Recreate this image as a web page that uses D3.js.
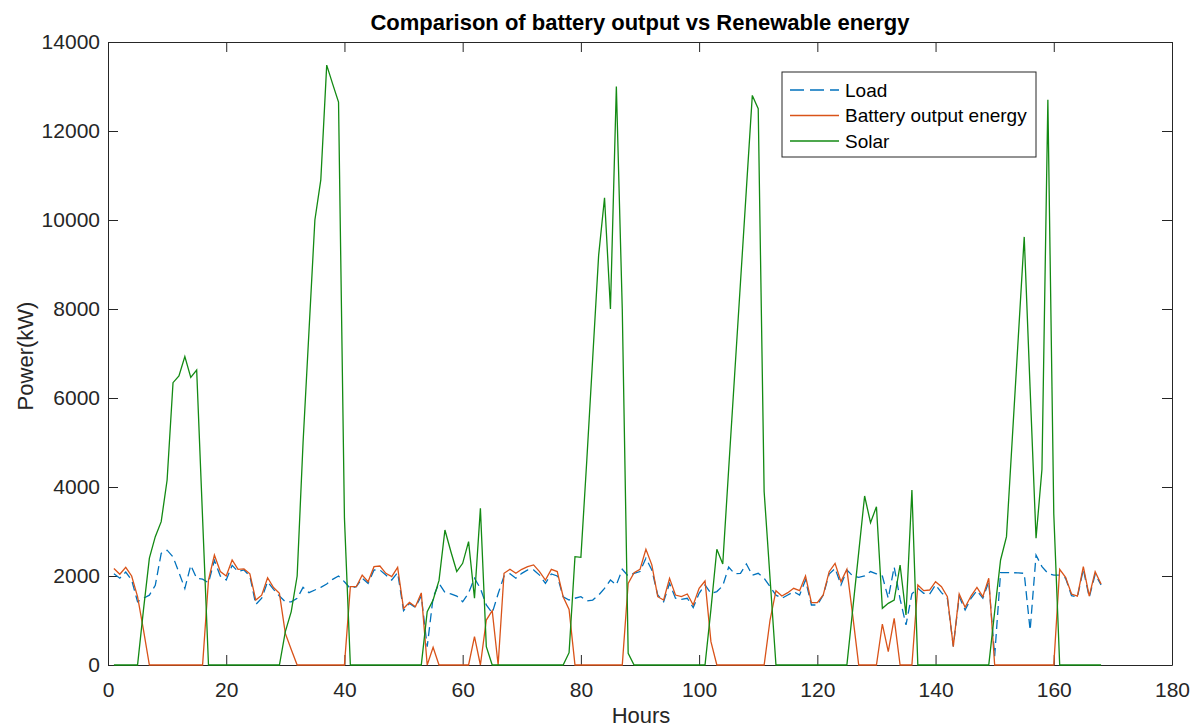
<!DOCTYPE html>
<html>
<head>
<meta charset="utf-8">
<script src="https://cdn.jsdelivr.net/npm/d3@7/dist/d3.min.js"></script>
<style>
  body { margin: 0; background: #fff; }
  svg { font-family: "Liberation Sans", Arial, sans-serif; }
</style>
</head>
<body>
<svg id="chart" width="1204" height="728"></svg>
<script>
// hours 1..168
const hours = d3.range(1, 169);

const load = [
  2050, 1950, 2090, 1910, 1420, 1500, 1570, 1790, 2510, 2580,
  2430, 2080, 1720, 2240, 1950, 1930, 1850, 2350, 2000, 1910,
  2240, 2100, 2135, 2000, 1360, 1500, 1870, 1700, 1550, 1420,
  1420, 1500, 1745, 1625, 1685, 1745, 1820, 1925, 2000, 1870,
  1720, 1760, 1950, 1835, 2135, 2135, 2020, 1910, 2075, 1220,
  1385, 1295, 1550, 410, 1520, 1835, 1630, 1600, 1550, 1420,
  1620, 1950, 1720, 1350, 1170, 1600, 2000, 2050, 1950, 2060,
  2135, 2135, 2020, 1835, 2045, 2000, 1535, 1460, 1500, 1535,
  1440, 1460, 1570, 1720, 1910, 1800, 2150, 2000, 2060, 2100,
  2400, 2135, 1573, 1423, 1835, 1500, 1475, 1500, 1290, 1610,
  1800, 1610, 1650, 1780, 2200, 2050, 2060, 2270, 2020, 2060,
  1950, 1760, 1570, 1500, 1573, 1648, 1573, 1910, 1348, 1348,
  1573, 2045, 2172, 1800, 2135, 2000, 1970, 2000, 2100, 2050,
  2000, 1500, 2200, 1480, 900, 1600, 1723, 1610, 1595, 1800,
  1625, 1500, 420, 1540, 1236, 1500, 1670, 1500, 1873, 200,
  2075, 2075, 2075, 2070, 2060, 780, 2470, 2210, 2060, 2020,
  2020, 1950, 1560, 1530, 2150, 1520, 2040, 1800
];

const battery = [
  2170, 2040, 2195, 2000, 1536, 790, 0, 0, 0, 0,
  0, 0, 0, 0, 0, 0, 1910, 2470, 2100, 2000,
  2360, 2150, 2160, 2050, 1460, 1570, 1960, 1740, 1610, 710,
  350, 0, 0, 0, 0, 0, 0, 0, 0, 0,
  1760, 1760, 2020, 1870, 2210, 2225, 2060, 1985, 2195, 1270,
  1410, 1310, 1620, 0, 400, 0, 0, 0, 0, 0,
  0, 640, 0, 1010, 1220, 0, 2060, 2150, 2060, 2150,
  2210, 2250, 2100, 1910, 2150, 2100, 1535, 1250, 0, 0,
  0, 0, 0, 0, 0, 0, 0, 1835, 2075, 2150,
  2600, 2250, 1535, 1460, 1948, 1573, 1536, 1595, 1348, 1723,
  1888, 524, 0, 0, 0, 0, 0, 0, 0, 0,
  0, 1011, 1670, 1550, 1625, 1723, 1670, 2000, 1400, 1400,
  1573, 2097, 2285, 1873, 2150, 1100, 0, 0, 0, 0,
  921, 300, 1049, 0, 0, 0, 1798, 1670, 1685, 1873,
  1760, 1536, 412, 1595, 1295, 1550, 1745, 1536, 1948, 0,
  0, 0, 0, 0, 0, 0, 0, 0, 0, 0,
  2150, 1970, 1595, 1550, 2210, 1550, 2097, 1820
];

const solar = [
  0, 0, 0, 0, 0, 1240, 2400, 2884, 3221, 4157,
  6345, 6494, 6929, 6464, 6629, 3300, 0, 0, 0, 0,
  0, 0, 0, 0, 0, 0, 0, 0, 0, 750,
  1200, 2000, 5000, 7500, 10000, 10900, 13480, 13060, 12650, 3300,
  0, 0, 0, 0, 0, 0, 0, 0, 0, 0,
  0, 0, 0, 1200, 1460, 1900, 3034, 2550, 2100, 2285,
  2772, 1500, 3520, 412, 0, 0, 0, 0, 0, 0,
  0, 0, 0, 0, 0, 0, 0, 277, 2434, 2420,
  4600, 6900, 9200, 10500, 8000, 13000, 8000, 262, 0, 0,
  0, 0, 0, 0, 0, 0, 0, 0, 0, 0,
  0, 1250, 2600, 2270, 4400, 6500, 8600, 10700, 12800, 12500,
  3900, 1950, 0, 0, 0, 0, 0, 0, 0, 0,
  0, 0, 0, 0, 0, 1266, 2532, 3798, 3198, 3558,
  1273, 1385, 1460, 2247, 1124, 3932, 0, 0, 0, 0,
  0, 0, 0, 0, 0, 0, 0, 0, 0, 1200,
  2360, 2884, 5130, 7370, 9620, 6200, 2850, 4400, 12700, 3400,
  0, 0, 0, 0, 0, 0, 0, 0
];

const xTicks = [0, 20, 40, 60, 80, 100, 120, 140, 160, 180];
const yTicks = [0, 2000, 4000, 6000, 8000, 10000, 12000, 14000];

const seriesNames = ["Load", "Battery output energy", "Solar"];
const seriesColors = ["#0072BD", "#D95319", "#138a13"];

// plot box
const plotLeft = 108, plotRight = 1172, plotTop = 42, plotBottom = 665;
const axisColor = "#262626";

const svg = d3.select("#chart");

const xScale = d3.scaleLinear().domain([0, 180]).range([plotLeft, plotRight]);
const yScale = d3.scaleLinear().domain([0, 14000]).range([plotBottom, plotTop]);

// axes, ticks pointing inward like matlab
const xAxis = svg.append("g")
    .attr("transform", `translate(0,${plotBottom})`)
    .call(d3.axisBottom(xScale).tickValues(xTicks).tickSizeInner(-10).tickSizeOuter(0).tickPadding(17));
const xTop = svg.append("g")
    .attr("transform", `translate(0,${plotTop})`)
    .call(d3.axisTop(xScale).tickValues(xTicks).tickSizeInner(-10).tickSizeOuter(0).tickFormat(""));
const yAxis = svg.append("g")
    .attr("transform", `translate(${plotLeft},0)`)
    .call(d3.axisLeft(yScale).tickValues(yTicks).tickFormat(d3.format("d"))
        .tickSizeInner(-10).tickSizeOuter(0).tickPadding(8));
const yRight = svg.append("g")
    .attr("transform", `translate(${plotRight},0)`)
    .call(d3.axisRight(yScale).tickValues(yTicks).tickSizeInner(-10).tickSizeOuter(0).tickFormat(""));

[xAxis, xTop, yAxis, yRight].forEach(g => {
    g.selectAll("path, line").attr("stroke", axisColor).attr("stroke-width", 1);
    g.selectAll("text").attr("fill", axisColor).style("font-size", "21px")
        .style("font-family", "'Liberation Sans', Arial, sans-serif");
});

// draw the lines
const line = d3.line()
    .x((d, i) => xScale(hours[i]))
    .y(d => yScale(d));

const allSeries = [load, battery, solar];
allSeries.forEach((vals, k) => {
    svg.append("path")
        .attr("fill", "none")
        .attr("stroke", seriesColors[k])
        .attr("stroke-width", 1.3)
        .attr("stroke-dasharray", k === 0 ? "9,5" : null)
        .attr("d", line(vals));
});

// title and labels
svg.append("text")
    .attr("x", 640).attr("y", 30)
    .attr("text-anchor", "middle")
    .attr("font-weight", "bold")
    .attr("font-size", 22)
    .attr("fill", "#000")
    .text("Comparison of battery output vs Renewable energy");

svg.append("text")
    .attr("x", 641).attr("y", 723)
    .attr("text-anchor", "middle")
    .attr("font-size", 22)
    .attr("fill", axisColor)
    .text("Hours");

svg.append("text")
    .attr("transform", "translate(33,356) rotate(-90)")
    .attr("text-anchor", "middle")
    .attr("font-size", 22)
    .attr("fill", axisColor)
    .text("Power(kW)");

// legend
const legend = svg.append("g").attr("transform", "translate(782,72)");
legend.append("rect")
    .attr("width", 254).attr("height", 85)
    .attr("fill", "#fff").attr("stroke", axisColor).attr("stroke-width", 1);
seriesNames.forEach((name, k) => {
    const yy = 18 + k * 25.5;
    legend.append("line")
        .attr("x1", 8).attr("x2", 57).attr("y1", yy).attr("y2", yy)
        .attr("stroke", seriesColors[k]).attr("stroke-width", 1.3)
        .attr("stroke-dasharray", k === 0 ? "14,6" : null);
    legend.append("text")
        .attr("x", 63).attr("y", yy + 6.5)
        .attr("font-size", 19)
        .attr("fill", "#000")
        .text(name);
});
</script>
</body>
</html>
